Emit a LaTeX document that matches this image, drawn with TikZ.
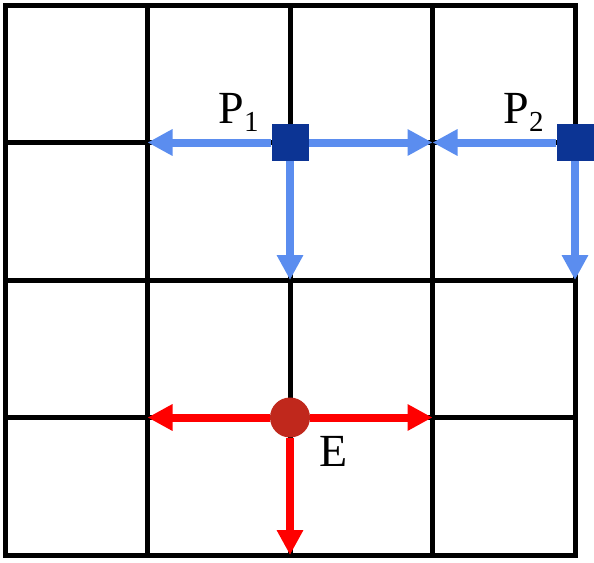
\documentclass[tikz,border=0pt]{standalone}
\usepackage{fontspec}
\newfontfamily\lblfont{Liberation Serif}
\usetikzlibrary{positioning, calc, arrows.meta}
\definecolor{moveblue}{RGB}{91,141,239}
\definecolor{pieceblue}{RGB}{12,52,148}
\definecolor{enemyred}{RGB}{192,40,28}
\newcommand{\lblsub}[1]{\raisebox{-4pt}{\fontsize{14.5}{15}\selectfont #1}}

\begin{document}
\begin{tikzpicture}[x=71.25pt, y=-68.75pt,
	gridline/.style={line width=2.5pt, line cap=rect},
	pmove/.style={draw=moveblue, line width=4pt, -{Triangle[length=12.5pt, width=12.5pt]}},
	emove/.style={draw=red, line width=4pt, -{Triangle[length=12.5pt, width=12.5pt]}},
	piece/.style={rectangle, fill=pieceblue, minimum size=18.5pt, inner sep=0},
	enemy/.style={circle, fill=enemyred, minimum size=20pt, inner sep=0},
	lbl/.style={inner sep=0, font=\lblfont\fontsize{23}{26}\selectfont}]
\useasboundingbox (-2.5pt,2.5pt) rectangle (294.5pt,-278.5pt);
\foreach \i in {0,...,4} {
	\draw[gridline] (\i,0) -- (\i,4);
	\draw[gridline] (0,\i) -- (4,\i);
}
% pieces
\node[piece] (P1) at (2,1) {};
\node[piece] (P2) at (4,1) {};
\node[enemy] (E) at (2,3) {};
\node[lbl, anchor=base east] (P1 lbl) at ([xshift=-6pt]P1.north west) {P\lblsub{1}};
\node[lbl, anchor=base east] (P2 lbl) at ([xshift=-6pt]P2.north west) {P\lblsub{2}};
\node[lbl, anchor=base west] (E lbl) at ([shift={(14.5pt,-24.5pt)}]E.center) {E};
% moves
\foreach \p in {P1, E} {
	\coordinate (\p l) at ($(\p)+(-1,0)$);
	\coordinate (\p r) at ($(\p)+(1,0)$);
	\coordinate (\p d) at ($(\p)+(0,1)$);
}
\coordinate (P2l) at ($(P2)+(-1,0)$);
\coordinate (P2d) at ($(P2)+(0,1)$);
\foreach \t in {P1l, P1r, P1d} \draw[pmove] (P1) -- (\t);
\foreach \t in {P2l, P2d} \draw[pmove] (P2) -- (\t);
\foreach \t in {El, Er, Ed} \draw[emove] (E) -- (\t);
\end{tikzpicture}
\end{document}
